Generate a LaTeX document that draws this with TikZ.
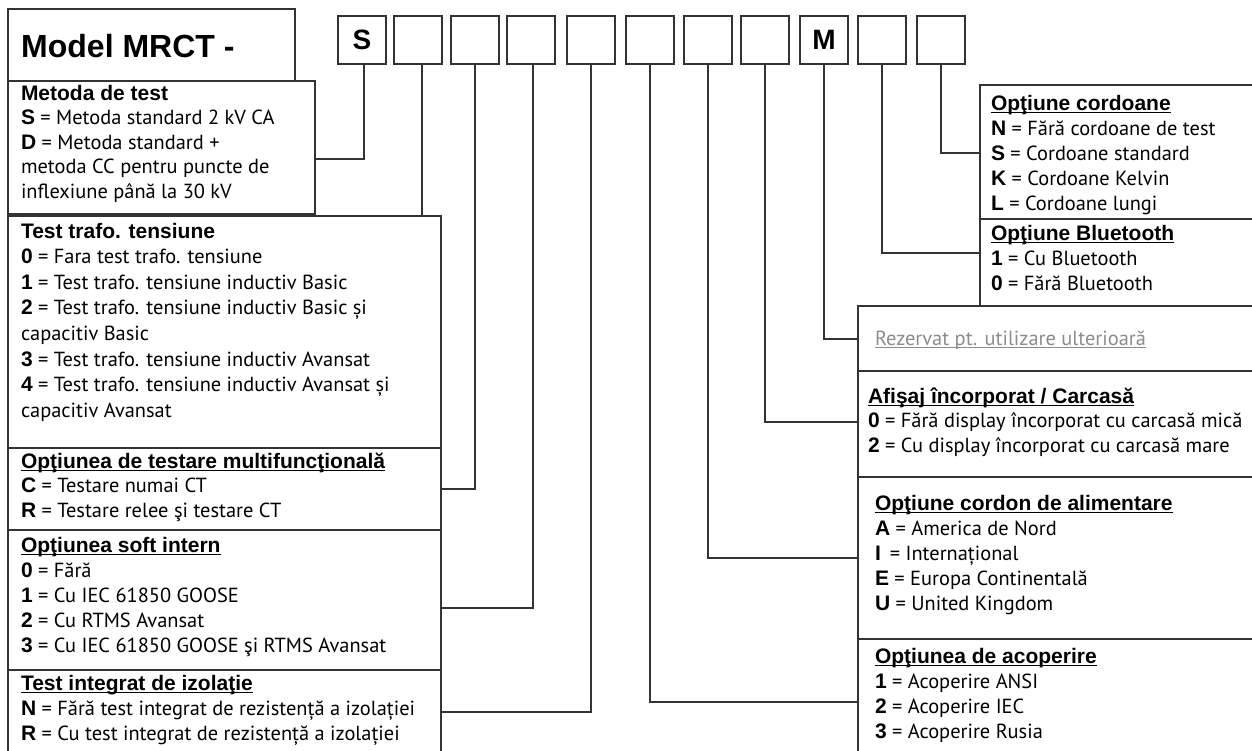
\documentclass[tikz,border=0pt]{standalone}
\usepackage{fontspec}
\setmainfont{PT Sans}
\newfontfamily\hfont{Liberation Sans}
\newsavebox\ubox
\newcommand\ul[1]{\sbox\ubox{#1}\rlap{\rule[-2.8pt]{\wd\ubox}{1.2pt}}\usebox\ubox}
\newcommand\lb[1]{{\hfont\bfseries\fontsize{21}{24}\selectfont #1}}
\newcommand\ttl[1]{{\hfont\bfseries\fontsize{21}{24}\selectfont #1}}
\tikzset{
  box/.style={draw=black!80, line width=1.4pt, rectangle, inner sep=0pt, outer sep=0pt, anchor=north west},
  code/.style={box, minimum width=48pt, minimum height=48pt, font=\hfont\bfseries\fontsize{28}{30}\selectfont},
  conn/.style={draw=black!80, line width=1.3pt},
  txt/.style={anchor=base west, inner sep=0pt, outer sep=0pt, font=\fontsize{20.4}{24}\selectfont},
}
\newcommand\boxat[5]{\node[box, minimum width=#4pt, minimum height=#5pt] (#1) at (#2,#3) {};}
\newcommand\lines[5]{\foreach \t [count=\i from 0] in {#5} {\node[txt] (#1-\i) at (#2, #3+\i*#4) {\t};}}
\begin{document}
\begin{tikzpicture}[x=1pt,y=-1pt]
\useasboundingbox (0,0) rectangle (1252,750);
\clip (0,0) rectangle (1252,750);
\fill[white] (0,0) rectangle (1252,750);
% header
\boxat{hdr}{8}{9}{287}{72}
\node[anchor=base west, inner sep=0pt] (hdrtxt) at (21,57) {\hfont\bfseries\fontsize{32}{36}\selectfont Model MRCT -};
% code boxes
\node[code] (c1) at (338,16) {S};
\node[code] (c2) at (394,16) {};
\node[code] (c3) at (451,16) {};
\node[code] (c4) at (507,16) {};
\node[code] (c5) at (567,16) {};
\node[code] (c6) at (626,16) {};
\node[code] (c7) at (684,16) {};
\node[code] (c8) at (741,16) {};
\node[code] (cM) at (800,16) {M};
\node[code] (c10) at (858,16) {};
\node[code] (c11) at (917,16) {};
% left boxes
\boxat{metoda}{8}{81}{307}{133}
\boxat{trafo}{8}{216}{433}{232}
\boxat{multi}{8}{448}{433}{82}
\boxat{soft}{8}{530}{433}{140}
\boxat{integ}{8}{670}{433}{100}
% right boxes
\boxat{cord}{980}{85}{300}{134}
\boxat{blue}{980}{219}{300}{87}
\boxat{rez}{858}{306}{420}{65}
\boxat{afis}{858}{371}{420}{106}
\boxat{alim}{858}{477}{420}{162}
\boxat{acop}{858}{639}{420}{130}
% connectors
\coordinate (e1) at (315,159);
\coordinate (e3) at (441,489);
\coordinate (e4) at (441,608);
\coordinate (e5) at (441,712);
\coordinate (e6) at (858,702);
\coordinate (e7) at (858,558);
\coordinate (e8) at (858,422);
\coordinate (eM) at (858,339);
\coordinate (e10) at (980,253);
\coordinate (e11) at (980,153);
\draw[conn] ([xshift=2pt]c1.south) |- (e1);
\draw[conn] ([xshift=4pt]c2.south) -- ([xshift=4pt]c2.south |- trafo.north);
\draw[conn] (c3.south) |- (e3);
\draw[conn] ([xshift=2pt]c4.south) |- (e4);
\draw[conn] (c5.south) |- (e5);
\draw[conn] (c6.south) |- (e6);
\draw[conn] (c7.south) |- (e7);
\draw[conn] (c8.south) |- (e8);
\draw[conn] (cM.south) |- (eM);
\draw[conn] (c10.south) |- (e10);
\draw[conn] (c11.south) |- (e11);
% texts left
\lines{tm}{21}{100}{24.5}{{\ttl{Metoda de test}},{\lb{S} = Metoda standard 2 kV CA},{\lb{D} = Metoda standard +},{metoda CC pentru puncte de},{inflexiune până la 30 kV}}
\lines{tt}{21}{238}{25.6}{{\ttl{Test trafo. tensiune}},{\lb{0} = Fara test trafo. tensiune},{\lb{1} = Test trafo. tensiune inductiv Basic},{\lb{2} = Test trafo. tensiune inductiv Basic și},{capacitiv Basic},{\lb{3} = Test trafo. tensiune inductiv Avansat},{\lb{4} = Test trafo. tensiune inductiv Avansat și},{capacitiv Avansat}}
\lines{tmu}{21}{468}{24.5}{{\ttl{\ul{Opţiunea de testare multifuncţională}}},{\lb{C} = Testare numai CT},{\lb{R} = Testare relee şi testare CT}}
\lines{ts}{21}{552}{25}{{\ttl{\ul{Opţiunea soft intern}}},{\lb{0} = Fără},{\lb{1} = Cu IEC 61850 GOOSE},{\lb{2} = Cu RTMS Avansat},{\lb{3} = Cu IEC 61850 GOOSE şi RTMS Avansat}}
\lines{ti}{21}{690}{25}{{\ttl{\ul{Test integrat de izolaţie}}},{\lb{N} = Fără test integrat de rezistență a izolației},{\lb{R} = Cu test integrat de rezistență a izolației}}
% texts right
\lines{tc}{991}{110}{25}{{\ttl{\ul{Opţiune cordoane}}},{\lb{N} = Fără cordoane de test},{\lb{S} = Cordoane standard},{\lb{K} = Cordoane Kelvin},{\lb{L} = Cordoane lungi}}
\lines{tb}{991}{240}{25}{{\ttl{\ul{Opţiune Bluetooth}}},{\lb{1} = Cu Bluetooth},{\lb{0} = Fără Bluetooth}}
\lines{tr}{875}{345}{25}{{\color{black!45}\ul{Rezervat pt. utilizare ulterioară}}}
\lines{ta}{868}{403}{24.5}{{\ttl{\ul{Afişaj încorporat / Carcasă}}},{\lb{0} = Fără display încorporat cu carcasă mică},{\lb{2} = Cu display încorporat cu carcasă mare}}
\lines{tl}{875}{510}{25}{{\ttl{\ul{Opţiune cordon de alimentare}}},{\lb{A} = America de Nord},{\lb{I}\hspace{9pt}= Internațional},{\lb{E} = Europa Continentală},{\lb{U} = United Kingdom}}
\lines{tp}{875}{663}{25}{{\ttl{\ul{Opţiunea de acoperire}}},{\lb{1} = Acoperire ANSI},{\lb{2} = Acoperire IEC},{\lb{3} = Acoperire Rusia}}
\end{tikzpicture}
\end{document}
